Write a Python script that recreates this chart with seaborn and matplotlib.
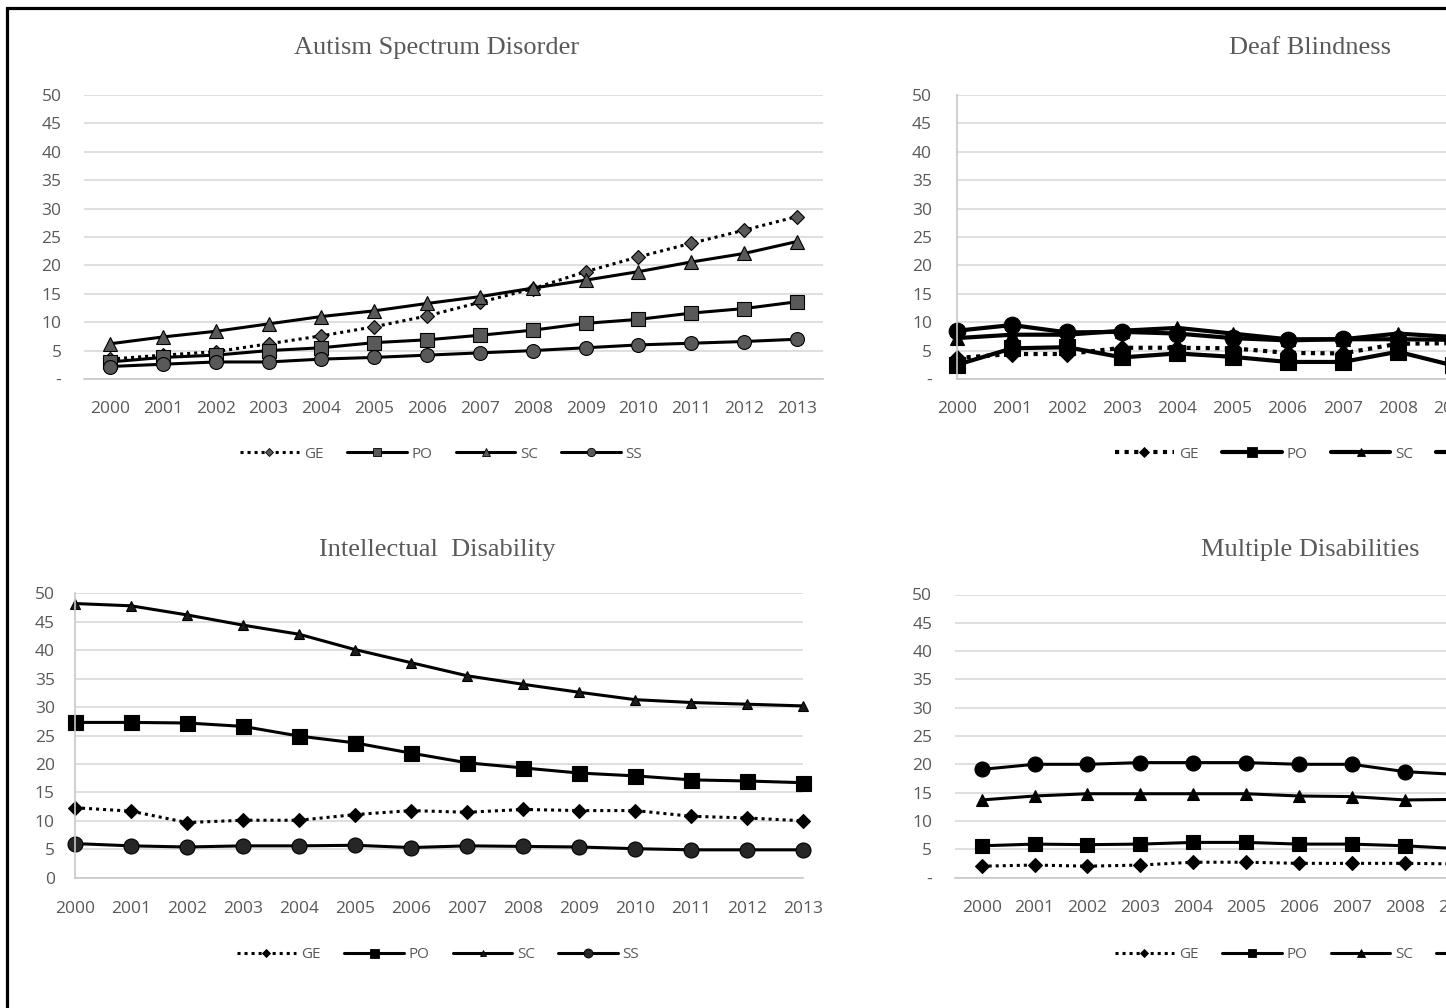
import numpy as np
import pandas as pd
import matplotlib
matplotlib.use("Agg")
import matplotlib.pyplot as plt
from matplotlib.lines import Line2D
from matplotlib.patches import Rectangle
import seaborn as sns

# data (percent of students, 2000-2013)
years = [str(y) for y in range(2000, 2014)]
series_names = ["GE", "PO", "SC", "SS"]
nan = np.nan

asd_ge = [3.5, 4.2, 4.8, 6.2, 7.6, 9.2, 11.1, 13.5, 15.9, 18.9, 21.5, 23.9, 26.2, 28.6]
asd_po = [3.0, 3.8, 4.2, 5.0, 5.5, 6.4, 6.9, 7.7, 8.6, 9.8, 10.5, 11.6, 12.4, 13.6]
asd_sc = [6.2, 7.4, 8.4, 9.7, 11.0, 12.0, 13.3, 14.5, 16.0, 17.4, 18.9, 20.6, 22.1, 24.2]
asd_ss = [2.2, 2.6, 3.0, 3.0, 3.5, 3.8, 4.2, 4.6, 5.0, 5.5, 6.0, 6.3, 6.6, 7.0]

# right-hand panels are cut off after 2009 in the reference
db_ge = [3.7, 4.4, 4.4, 5.5, 5.5, 5.4, 4.6, 4.5, 6.2, 6.3, nan, nan, nan, nan]
db_po = [2.5, 5.4, 5.6, 3.8, 4.5, 3.9, 3.0, 3.0, 4.8, 2.4, nan, nan, nan, nan]
db_sc = [7.2, 7.8, 7.8, 8.5, 9.0, 8.0, 7.0, 7.0, 8.0, 7.4, nan, nan, nan, nan]
db_ss = [8.5, 9.5, 8.2, 8.3, 8.0, 7.2, 6.8, 7.0, 7.0, 6.9, nan, nan, nan, nan]

id_ge = [12.3, 11.7, 9.7, 10.1, 10.1, 11.1, 11.8, 11.5, 12.0, 11.8, 11.8, 10.8, 10.5, 10.0]
id_po = [27.3, 27.3, 27.2, 26.6, 24.9, 23.7, 21.9, 20.2, 19.3, 18.4, 17.9, 17.2, 17.0, 16.7]
id_sc = [48.2, 47.8, 46.2, 44.4, 42.8, 40.1, 37.8, 35.5, 34.0, 32.6, 31.3, 30.8, 30.5, 30.2]
id_ss = [6.0, 5.6, 5.4, 5.6, 5.6, 5.7, 5.3, 5.6, 5.5, 5.4, 5.1, 4.9, 4.9, 4.9]

md_ge = [2.0, 2.2, 2.0, 2.2, 2.7, 2.7, 2.5, 2.5, 2.5, 2.4, nan, nan, nan, nan]
md_po = [5.6, 5.9, 5.8, 5.9, 6.2, 6.2, 5.9, 5.9, 5.6, 5.1, nan, nan, nan, nan]
md_sc = [13.7, 14.4, 14.8, 14.8, 14.8, 14.8, 14.4, 14.3, 13.7, 13.8, nan, nan, nan, nan]
md_ss = [19.1, 20.0, 20.0, 20.3, 20.3, 20.3, 20.0, 20.0, 18.7, 18.2, nan, nan, nan, nan]

sns.set_theme(style="white")
plt.rcParams["font.family"] = ["Open Sans", "DejaVu Sans"]

W, H = 1446, 1008
fig = plt.figure(figsize=(W / 100, H / 100), dpi=100)
fig.patch.set_facecolor("white")

GRAY_TXT = "#595959"
markers = {"GE": "D", "PO": "s", "SC": "^", "SS": "o"}
dotted = (0, (1, 1.3))


def px_axes(x0, x1, ytop, ybot):
    return fig.add_axes([x0 / W, 1 - ybot / H, (x1 - x0) / W, (ybot - ytop) / H])


def draw_panel(ax, data, title, title_xy, legend_xy, xlim, zero_label, left_spine,
               lw, sizes, face, ypad, xpad):
    df = pd.DataFrame({
        "pos": np.tile(np.arange(len(years)), len(series_names)),
        "value": np.concatenate([data[s] for s in series_names]),
        "series": np.repeat(series_names, len(years)),
    }).dropna()
    for s in series_names:
        sub = df[df["series"] == s]
        sns.lineplot(data=sub, x="pos", y="value", ax=ax, color="black",
                     linewidth=lw, errorbar=None, legend=False,
                     marker=markers[s], markersize=sizes[s],
                     markerfacecolor=face[s], markeredgecolor="black",
                     markeredgewidth=0.8, clip_on=False)
        if s == "GE":
            ax.lines[-1].set_linestyle(dotted)
    ax.set_xlim(*xlim)
    ax.set_ylim(0, 50)
    ax.set_xticks(range(len(years)))
    ax.set_xticklabels(years)
    ax.set_yticks(range(0, 51, 5))
    ax.set_yticklabels([zero_label] + [str(v) for v in range(5, 51, 5)])
    ax.set_xlabel("")
    ax.set_ylabel("")
    ax.yaxis.grid(True, color="#d9d9d9", linewidth=1.2)
    ax.set_axisbelow(True)
    for side in ["top", "right"]:
        ax.spines[side].set_visible(False)
    ax.spines["bottom"].set_color("#c8c8c8")
    ax.spines["bottom"].set_linewidth(1.2)
    ax.spines["left"].set_visible(left_spine)
    ax.spines["left"].set_color("#c8c8c8")
    ax.spines["left"].set_linewidth(1.2)
    ax.tick_params(axis="both", length=0, labelsize=12.5, labelcolor=GRAY_TXT)
    ax.tick_params(axis="x", pad=xpad)
    ax.tick_params(axis="y", pad=ypad)

    fig.text(title_xy[0] / W, 1 - title_xy[1] / H, title, ha="center", va="center",
             fontsize=19, color=GRAY_TXT, family=["Liberation Serif", "DejaVu Serif"])

    handles = []
    for s in series_names:
        handles.append(Line2D([], [], color="black", linewidth=lw,
                              linestyle=dotted if s == "GE" else "-",
                              marker=markers[s], markersize=sizes[s] * 0.6,
                              markerfacecolor=face[s], markeredgecolor="black",
                              markeredgewidth=0.6))
    fig.legend(handles, series_names, loc="center", ncol=4, frameon=False,
               bbox_to_anchor=(legend_xy[0] / W, 1 - legend_xy[1] / H),
               handlelength=3.9, handletextpad=0.3, columnspacing=1.55,
               fontsize=11, labelcolor=GRAY_TXT)


gray_face = {s: "#595959" for s in series_names}
black_face = {s: "black" for s in series_names}
id_face = {"GE": "black", "PO": "black", "SC": "#1a1a1a", "SS": "#262626"}

# Autism Spectrum Disorder
ax1 = px_axes(83.6, 823.4, 95, 379)
draw_panel(ax1, {"GE": asd_ge, "PO": asd_po, "SC": asd_sc, "SS": asd_ss},
           "Autism Spectrum Disorder", (437, 48), (441, 454), (-0.5, 13.5), "-",
           False, 2.2, {"GE": 7.2, "PO": 10, "SC": 10, "SS": 10}, gray_face, 16, 15.5)

# Deaf Blindness
ax2 = px_axes(957, 957 + 13 * 55.1, 95, 379)
draw_panel(ax2, {"GE": db_ge, "PO": db_po, "SC": db_sc, "SS": db_ss},
           "Deaf Blindness", (1310, 48), (1316, 454), (0, 13), "-",
           True, 3.0, {"GE": 8, "PO": 11, "SC": 10.5, "SS": 12}, black_face, 18, 15.5)

# Intellectual Disability
ax3 = px_axes(75, 803.3, 593.3, 877.7)
draw_panel(ax3, {"GE": id_ge, "PO": id_po, "SC": id_sc, "SS": id_ss},
           "Intellectual  Disability", (437, 550), (438, 955), (0, 13), "0",
           True, 2.2, {"GE": 7.0, "PO": 10.8, "SC": 7.8, "SS": 10.8}, id_face, 14.5, 17)

# Multiple Disabilities
ax4 = px_axes(955.2, 1695.9, 594.5, 877.5)
draw_panel(ax4, {"GE": md_ge, "PO": md_po, "SC": md_sc, "SS": md_ss},
           "Multiple Disabilities", (1310, 550), (1316, 955), (-0.5, 13.5), "-",
           False, 2.2, {"GE": 7.0, "PO": 10.5, "SC": 9.0, "SS": 10.8}, black_face, 16.5, 16)

# outer frame (left and top edges visible, rest cut off)
fig.add_artist(Rectangle((7 / W, -0.2), 2.0, 1.2 - 7.5 / H, transform=fig.transFigure,
                         fill=False, edgecolor="black", linewidth=2.3))

fig.savefig("out.png", dpi=100)
